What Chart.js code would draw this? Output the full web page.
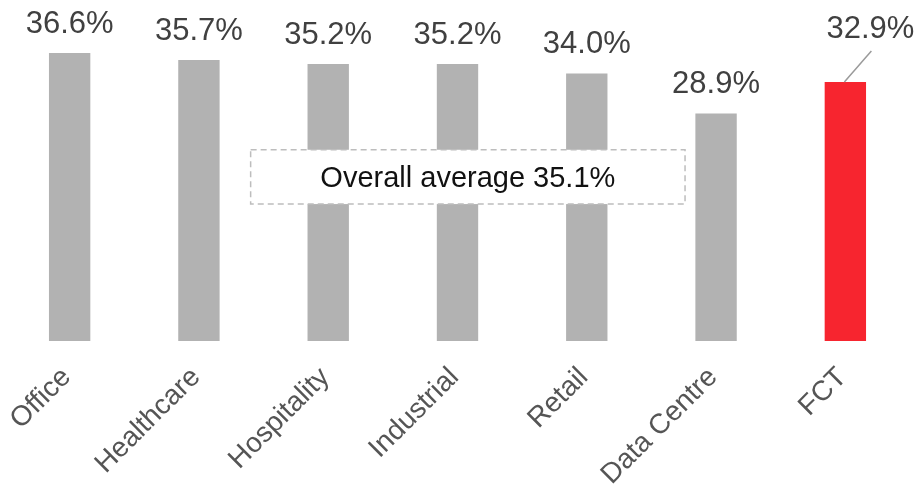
<!DOCTYPE html>
<html>
<head>
<meta charset="utf-8">
<script src="https://cdn.jsdelivr.net/npm/chart.js@4.4.1/dist/chart.umd.min.js"></script>
<style>
  html, body { margin: 0; padding: 0; background: #fff; }
  #wrap { width: 919px; height: 485px; position: relative; }
</style>
</head>
<body>
<div id="wrap"><canvas id="chart"></canvas></div>
<script>
// chart data
const categories = ['Office', 'Healthcare', 'Hospitality', 'Industrial', 'Retail', 'Data Centre', 'FCT'];
const values = [36.6, 35.7, 35.2, 35.2, 34.0, 28.9, 32.9];
const barColors = ['#b2b2b2', '#b2b2b2', '#b2b2b2', '#b2b2b2', '#b2b2b2', '#b2b2b2', '#f7252f'];
const averageText = 'Overall average 35.1%';

const FONT = '"Liberation Sans", Arial, sans-serif';

// value labels above bars, FCT one is pushed up/right with a leader line
const valueLabels = {
    id: 'valueLabels',
    afterDatasetsDraw(chart) {
        const ctx = chart.ctx;
        const meta = chart.getDatasetMeta(0);
        ctx.save();
        ctx.font = '31px ' + FONT;
        ctx.fillStyle = '#404040';
        ctx.textAlign = 'center';
        ctx.textBaseline = 'middle';
        meta.data.forEach((bar, i) => {
            const txt = values[i].toFixed(1) + '%';
            if (categories[i] === 'FCT') {
                ctx.strokeStyle = '#9a9a9a';
                ctx.lineWidth = 1.5;
                ctx.beginPath();
                ctx.moveTo(bar.x - 1, bar.y);
                ctx.lineTo(bar.x + 26, bar.y - 31);
                ctx.stroke();
                ctx.fillText(txt, bar.x + 25, bar.y - 53);
            } else {
                ctx.fillText(txt, bar.x, bar.y - 29);
            }
        });
        ctx.restore();
    }
};

// dashed box with the overall average
const averageBox = {
    id: 'averageBox',
    afterDatasetsDraw(chart) {
        const ctx = chart.ctx;
        const x = chart.scales.x, y = chart.scales.y;
        const left = x.getPixelForValue(1.4), right = x.getPixelForValue(4.76);
        const top = y.getPixelForValue(24.3), bottom = y.getPixelForValue(17.4);
        ctx.save();
        ctx.fillStyle = '#ffffff';
        ctx.fillRect(left, top, right - left, bottom - top);
        ctx.setLineDash([6, 4]);
        ctx.strokeStyle = '#bdbdbd';
        ctx.lineWidth = 1.5;
        ctx.strokeRect(left, top, right - left, bottom - top);
        ctx.setLineDash([]);
        ctx.font = '29px ' + FONT;
        ctx.fillStyle = '#111111';
        ctx.textAlign = 'center';
        ctx.textBaseline = 'middle';
        ctx.fillText(averageText, (left + right) / 2, (top + bottom) / 2 + 2);
        ctx.restore();
    }
};

new Chart(document.getElementById('chart'), {
    type: 'bar',
    data: {
        labels: categories,
        datasets: [{
            data: values,
            backgroundColor: barColors,
            barPercentage: 0.64,
            categoryPercentage: 0.5
        }]
    },
    options: {
        responsive: true,
        maintainAspectRatio: false,
        animation: false,
        layout: { padding: { left: 5, right: 9, top: 0, bottom: 0 } },
        plugins: { legend: { display: false }, tooltip: { enabled: false } },
        scales: {
            x: {
                grid: { display: false, drawTicks: false },
                border: { display: false },
                ticks: {
                    minRotation: 45,
                    maxRotation: 45,
                    padding: 20,
                    labelOffset: -3,
                    color: '#555555',
                    font: { family: FONT, size: 28 }
                },
                afterFit(scale) {
                    scale.height = 144;
                    scale.paddingLeft = 0;
                    scale.paddingRight = 0;
                }
            },
            y: {
                display: false,
                min: 0,
                max: 43.33
            }
        }
    },
    plugins: [valueLabels, averageBox]
});
</script>
</body>
</html>
